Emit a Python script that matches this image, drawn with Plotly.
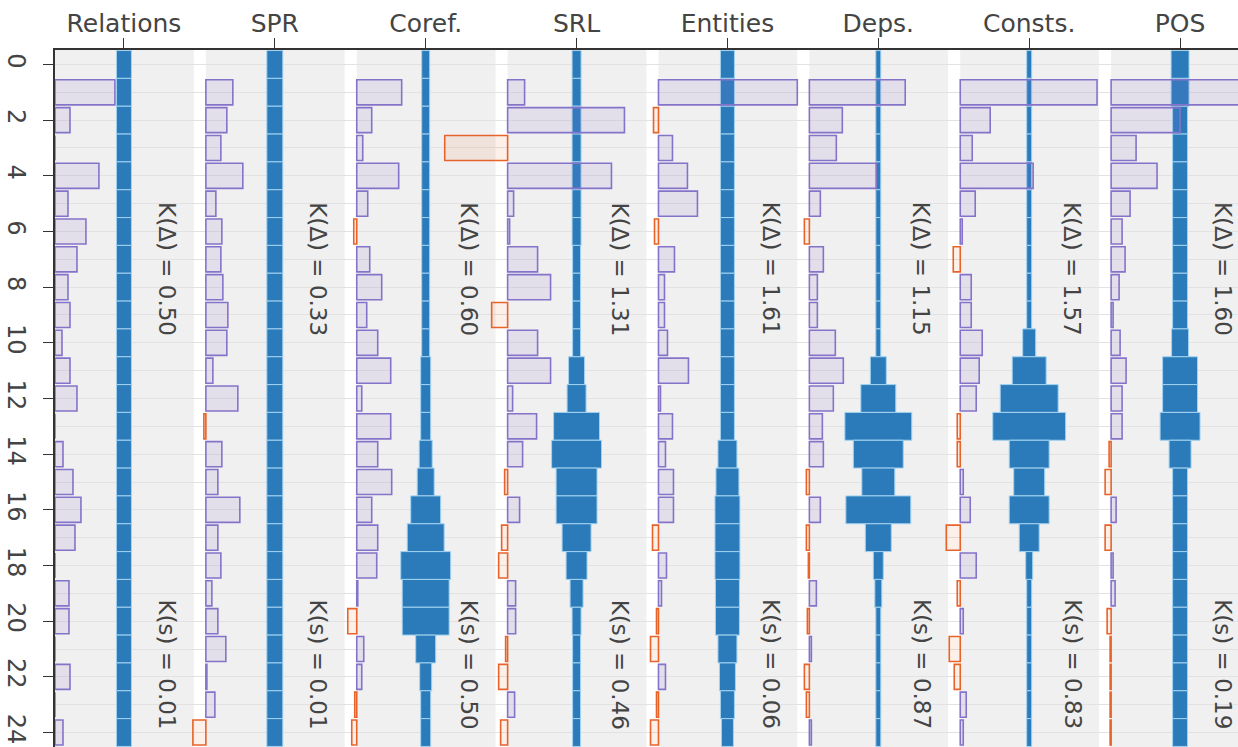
import plotly.graph_objects as go

# ---------------- data ----------------
tasks = ["Relations", "SPR", "Coref.", "SRL", "Entities", "Deps.", "Consts.", "POS"]
layers = list(range(25))          # layers 0..24 (blue s distribution)
delta_layers = list(range(1, 25)) # layers 1..24 (differential Δ)

k_delta = ["0.50", "0.33", "0.60", "1.31", "1.61", "1.15", "1.57", "1.60"]
k_s = ["0.01", "0.01", "0.50", "0.46", "0.06", "0.87", "0.83", "0.19"]

# Δ per layer (1..24), in units of 1/151 of a column width; negative = orange
delta_relations = [60, 15, 0, 44, 13, 31, 22, 13, 15, 7, 15, 22, 0, 8, 18, 26, 20, 0, 14, 14, 0, 15, 0, 8]
delta_spr = [27, 21, 15, 37, 10, 16, 15, 17, 22, 21, 7, 32, -2, 16, 12, 34, 12, 15, 6, 12, 20, 1, 9, -13]
delta_coref = [45, 15, 6, 42, 11, -3, 13, 25, 10, 21, 34, 5, 34, 21, 35, 15, 21, 20, 1, -9, 7, 5, -2, -5]
delta_srl = [17, 117, -63, 104, 6, 2, 30, 43, -16, 30, 43, 5, 29, 15, -3, 12, -6, -9, 8, 8, -2, -9, 7, -7]
delta_entities = [139, -5, 14, 29, 39, -4, 16, 6, 6, 9, 30, 2, 14, 7, 15, 15, -6, 8, 3, -2, -8, 7, -2, -8]
delta_deps = [96, 33, 27, 67, 11, -5, 14, 8, 8, 26, 34, 24, 13, 14, -3, 11, -3, -1, 7, -2, 2, -5, -3, 2]
delta_consts = [137, 30, 12, 73, 15, 2, -7, 11, 11, 22, 19, 16, -3, -3, 3, 10, -14, 16, -3, 3, -11, -6, 6, 3]
delta_pos = [145, 69, 25, 46, 19, 11, 14, 8, 2, 9, 15, 11, 11, -2, -6, 5, -6, 2, 4, -4, -1, -1, -1, -1]

# s (mixing weight) per layer (0..24), same units, drawn centred
s_relations = [15] * 25
s_spr = [16] * 25
s_coref = [8, 8, 8, 8, 8, 8, 8, 8, 8, 8, 8, 10, 10, 10, 13, 17, 30, 37, 50, 47, 47, 20, 12, 10, 10]
s_srl = [9, 9, 9, 9, 9, 9, 9, 8, 8, 8, 8, 16, 19, 46, 50, 41, 41, 29, 21, 13, 9, 8, 8, 8, 8]
s_entities = [14, 14, 14, 14, 14, 14, 14, 14, 14, 14, 14, 14, 14, 14, 19, 23, 25, 25, 25, 24, 24, 19, 16, 14, 12]
s_deps = [5, 5, 5, 5, 5, 5, 5, 5, 5, 5, 5, 16, 35, 67, 50, 33, 65, 26, 10, 7, 5, 5, 5, 5, 5]
s_consts = [5, 5, 5, 5, 5, 5, 5, 5, 5, 5, 13, 34, 58, 73, 40, 31, 40, 20, 7, 5, 5, 5, 5, 5, 5]
s_pos = [18, 18, 15, 15, 15, 15, 15, 15, 15, 15, 17, 35, 35, 40, 22, 15, 15, 15, 15, 15, 15, 15, 15, 15, 15]

deltas = [delta_relations, delta_spr, delta_coref, delta_srl,
          delta_entities, delta_deps, delta_consts, delta_pos]
s_vals = [s_relations, s_spr, s_coref, s_srl, s_entities, s_deps, s_consts, s_pos]

# ---------------- style ----------------
UNIT = 151.1        # value units per column
BASE_OFF = 0.457    # Δ bars start at the column's left edge
BAND_R = 0.463
FONT = "DejaVu Sans"
TXT = "#444444"
BLUE = "#2b7bba"
BLUE_EDGE = "#a3d2f0"
PUR_FILL = "rgba(128,112,200,0.13)"
PUR_LINE = "#8573c9"
ORA_FILL = "rgba(235,110,40,0.10)"
ORA_LINE = "#e8632a"

fig = go.Figure()

for i, sv in enumerate(s_vals):
    w = [v / UNIT for v in sv]
    fig.add_trace(go.Bar(
        orientation="h", y=layers, x=w, base=[i - v / 2 for v in w], width=1.0,
        marker=dict(color=BLUE, line=dict(color=BLUE_EDGE, width=1)),
        showlegend=False, hoverinfo="skip"))

for i, dv in enumerate(deltas):
    d = [v / UNIT for v in dv]
    fig.add_trace(go.Bar(
        orientation="h", y=delta_layers, x=d, base=i - BASE_OFF, width=0.9,
        marker=dict(color=[PUR_FILL if v >= 0 else ORA_FILL for v in d],
                    line=dict(color=[PUR_LINE if v >= 0 else ORA_LINE for v in d], width=1.6)),
        showlegend=False, hoverinfo="skip"))

shapes = []
for i in range(len(tasks)):
    shapes.append(dict(type="rect", xref="x", yref="paper", x0=i - BASE_OFF, x1=i + BAND_R,
                       y0=0, y1=1, fillcolor="#f0f0f0", line=dict(width=0), layer="below"))

annotations = []
for i in range(len(tasks)):
    annotations.append(dict(x=i + 0.285, y=7.35, xref="x", yref="y", showarrow=False,
                            text=f"K(Δ) = {k_delta[i]}", textangle=90,
                            font=dict(family=FONT, size=23, color=TXT)))
    annotations.append(dict(x=i + 0.285, y=21.55, xref="x", yref="y", showarrow=False,
                            text=f"K(s) = {k_s[i]}", textangle=90,
                            font=dict(family=FONT, size=23, color=TXT)))

fig.update_layout(
    width=1238, height=747,
    margin=dict(l=55, r=0, t=50, b=0, autoexpand=False),
    barmode="overlay",
    plot_bgcolor="white", paper_bgcolor="white",
    shapes=shapes, annotations=annotations,
    xaxis=dict(range=[-BASE_OFF, 7.384], tickvals=list(range(len(tasks))), ticktext=tasks,
               side="top", ticks="outside", ticklen=10, tickwidth=1.2, tickcolor="#333",
               showline=True, linecolor="#333", linewidth=1.5, showgrid=False, zeroline=False,
               ticklabelstandoff=-4, automargin=False,
               tickfont=dict(family=FONT, size=25, color=TXT)),
    yaxis=dict(range=[24.52, -0.52], tickvals=list(range(0, 25, 2)), tickangle=90,
               ticks="outside", ticklen=10, tickwidth=1.2, tickcolor="#333",
               showline=True, linecolor="#333", linewidth=1.5, zeroline=False,
               showgrid=True, gridcolor="#e2e2e2", gridwidth=1,
               ticklabelstandoff=6, automargin=False,
               minor=dict(tickvals=layers, showgrid=True, gridcolor="#e2e2e2", ticklen=0),
               tickfont=dict(family=FONT, size=24, color=TXT)),
)

fig.write_html(
    "out.html",
    config={"displayModeBar": False},
    post_script="document.body.style.margin='0';document.body.style.overflow='hidden';",
)
